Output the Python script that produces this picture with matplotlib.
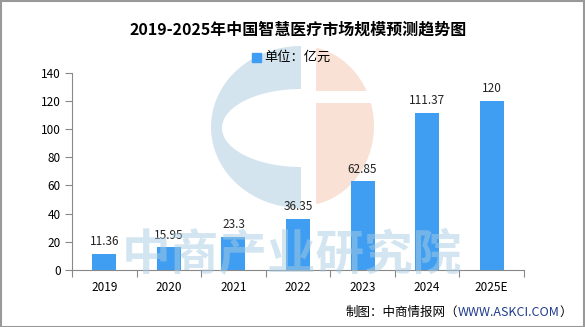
import numpy as np
import matplotlib
matplotlib.use("Agg")
import matplotlib.pyplot as plt
from matplotlib.patches import Polygon, Rectangle

plt.rcParams['font.family'] = ['Noto Sans CJK SC', 'DejaVu Sans']

years = ['2019', '2020', '2021', '2022', '2023', '2024', '2025E']
values = [11.36, 15.95, 23.3, 36.35, 62.85, 111.37, 120]
value_labels = ['11.36', '15.95', '23.3', '36.35', '62.85', '111.37', '120']
y_ticks = [0, 20, 40, 60, 80, 100, 120, 140]

W, H = 585, 327
fig = plt.figure(figsize=(W / 100, H / 100), dpi=100)

# watermark logo (pixel coords), behind everything
bg = fig.add_axes([0, 0, 1, 1], zorder=0)
bg.set_xlim(0, W)
bg.set_ylim(H, 0)
bg.axis('off')

def half_ellipse(cx, cy, rx, ry, a0, a1, n=80):
    t = np.linspace(np.radians(a0), np.radians(a1), n)
    return np.column_stack([cx + rx * np.cos(t), cy - ry * np.sin(t)])

bg.add_patch(Polygon(half_ellipse(301, 127, 90, 81, 90, 270), color='#d3e4ee', lw=0))
bg.add_patch(Polygon(half_ellipse(301, 128, 79, 39, 90, 270), color='white', lw=0))
peach = half_ellipse(301, 126, 73, 80, -90, 90)
peach = peach[peach[:, 0] >= 316]
peach = np.vstack([[316, peach[0, 1]], peach, [316, peach[-1, 1]]])
bg.add_patch(Polygon(peach, color='#f9e1d6', lw=0))
bg.add_patch(Rectangle((314, 91), 70, 12, color='white', lw=0))

ax = fig.add_axes([72 / W, 1 - 270 / H, (524 - 72) / W, (270 - 72.5) / H], zorder=1)
ax.patch.set_alpha(0)
x = np.arange(len(years))
ax.bar(x, values, width=0.37, color='#3f9ef2', zorder=2)
for xi, v, lab in zip(x, values, value_labels):
    ax.text(xi, v + 4, lab, ha='center', va='bottom', fontsize=8.5, color='#222222')

ax.set_xlim(-0.5, len(years) - 0.5)
ax.set_ylim(0, 140)
ax.set_yticks(y_ticks)
ax.set_yticklabels([str(t) for t in y_ticks], fontsize=8.5)
ax.set_xticks(np.arange(-0.5, len(years), 1.0))
ax.set_xticklabels([])
ax.set_xticks(x, minor=True)
ax.set_xticklabels(years, minor=True, fontsize=8.5)
ax.tick_params(axis='x', which='minor', length=0, pad=8)
ax.tick_params(axis='x', which='major', length=5, color='#888888')
ax.tick_params(axis='y', length=5, color='#888888', pad=3)
for s in ['top', 'right']:
    ax.spines[s].set_visible(False)
for s in ['left', 'bottom']:
    ax.spines[s].set_color('#888888')

# watermark text on top
fig.text(292 / W, 1 - 256 / H, '中商产业研究院', ha='center', va='center',
         fontsize=35, color='#a9cce2', alpha=0.5, fontweight='bold', zorder=5)

fig.text(298 / W, 1 - 30 / H, '2019-2025年中国智慧医疗市场规模预测趋势图',
         ha='center', va='center', fontsize=11.5, fontweight='bold')

# legend
fig.patches.append(Rectangle((252 / W, 1 - 62 / H), 9 / W, 9 / H,
                             transform=fig.transFigure, color='#3f9ef2', figure=fig))
fig.text(264 / W, 1 - 57 / H, '单位：亿元', ha='left', va='center', fontsize=9.5)

# footer
t3 = fig.text(572 / W, 1 - 312 / H, '）', ha='right', va='center', fontsize=9)
t2 = ax.annotate('WWW.ASKCI.COM', xy=(0, 0), xycoords=t3, ha='right', va='bottom',
                 fontsize=9, color='#1f3b8c', annotation_clip=False)
ax.annotate('制图：中商情报网（', xy=(0, 0), xycoords=t2, ha='right', va='bottom',
            fontsize=9, annotation_clip=False)

fig.patches.append(Rectangle((0.5 / W, 0.5 / H), 1 - 1.5 / W, 1 - 1.5 / H,
                             transform=fig.transFigure, fill=False,
                             edgecolor='#999999', lw=1.5, figure=fig))

fig.savefig('out.png', dpi=100)
